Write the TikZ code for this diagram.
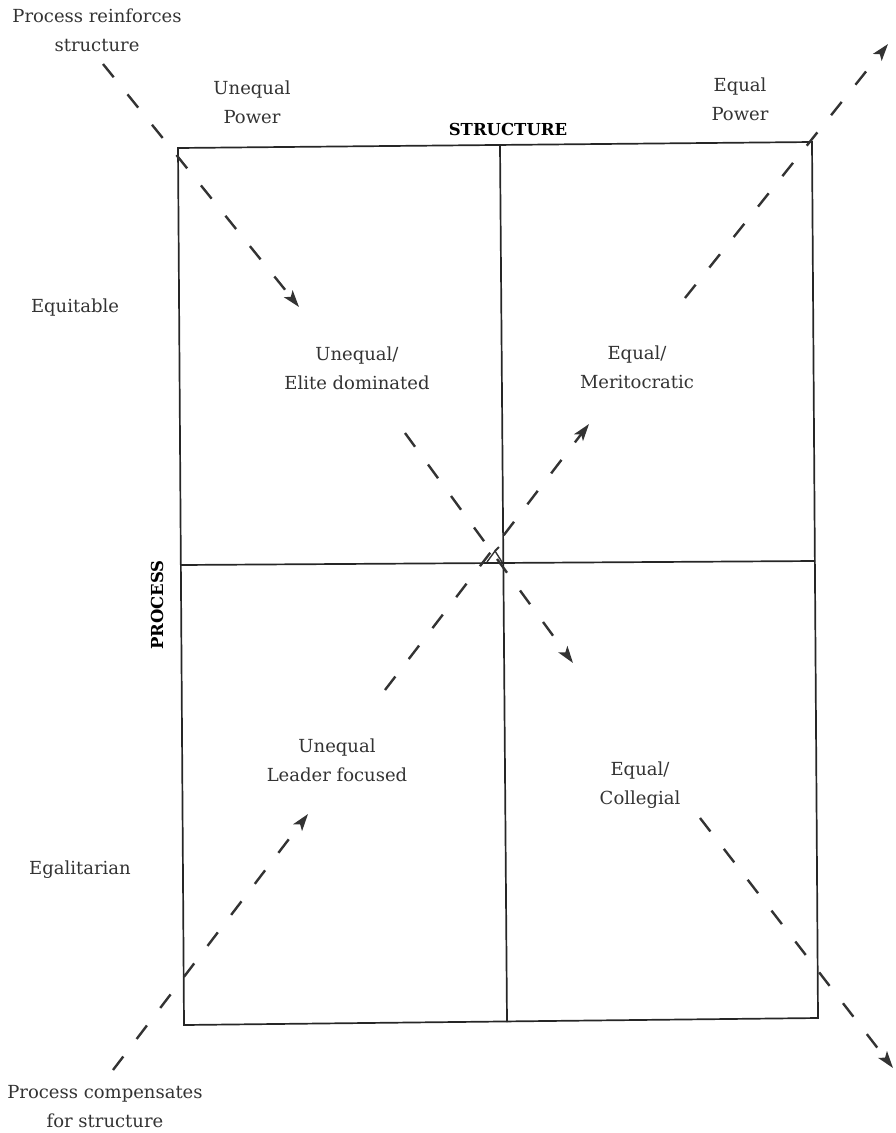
\documentclass[tikz,border=0pt]{standalone}
\usepackage{fontspec}
\setmainfont{DejaVu Serif}
\usetikzlibrary{arrows.meta}
\begin{document}
\begin{tikzpicture}[x=1pt,y=-1pt,
  lbl/.style={font=\fontsize{18}{29}\selectfont, align=center, inner sep=0pt, text=black!80},
  axis/.style={font=\fontsize{16.5}{20}\bfseries\selectfont, inner sep=0pt},
  frame/.style={line width=1.7pt, black!85},
  flow/.style={line width=2.4pt, black!80, dash pattern=on 17pt off 22pt, -{Stealth[length=17pt,width=11pt,inset=4pt]}}]
\useasboundingbox (0,0) rectangle (896,1133);
% frame corners
\coordinate (tl) at (178,148);
\coordinate (tr) at (812,142);
\coordinate (bl) at (184,1025);
\coordinate (br) at (818,1018);
\coordinate (tm) at (500,145);
\coordinate (bm) at (507,1022);
\coordinate (lm) at (180,565);
\coordinate (rm) at (815,561);
\draw[frame] (tl) -- (tr) -- (br) -- (bl) -- cycle;
\draw[frame] (tm) -- (bm);
\draw[frame] (lm) -- (rm);
% texts
\node[lbl] (reinf) at (97,30) {Process reinforces\\structure};
\node[lbl] (uneqp) at (252,102) {Unequal\\Power};
\node[lbl] (eqp) at (740,99) {Equal\\Power};
\node[axis] (struct) at (508,129) {STRUCTURE};
\node[lbl] (equit) at (75,308) {Equitable};
\node[axis, rotate=90] (proc) at (157,605) {PROCESS};
\node[lbl] (egal) at (80,870) {Egalitarian};
\node[lbl] (elite) at (357,368) {Unequal/\\Elite dominated};
\node[lbl] (merit) at (637,367) {Equal/\\Meritocratic};
\node[lbl] (leader) at (337,760) {Unequal\\Leader focused};
\node[lbl] (coll) at (640,785) {Equal/\\Collegial};
\node[lbl] (comp) at (105,1107) {Process compensates\\for structure};
% diagonal 1: reinforces
\coordinate (a1) at (103,64);
\coordinate (a2) at (299,307);
\coordinate (a3) at (405,433);
\coordinate (a4) at (573,663);
\coordinate (a5) at (700,818);
\coordinate (a6) at (893,1068);
\draw[flow] (a1) -- (a2);
\draw[flow] (a3) -- (a4);
\draw[flow] (a5) -- (a6);
% diagonal 2: compensates
\coordinate (b1) at (113,1070);
\coordinate (b2) at (308,814);
\coordinate (b3) at (385,690);
\coordinate (b4) at (589,424);
\coordinate (b5) at (685,298);
\coordinate (b6) at (888,44);
\draw[flow] (b1) -- (b2);
\draw[flow] (b3) -- (b4);
\draw[flow] (b5) -- (b6);
% small open tip at centre
\coordinate (t1) at (487,562);
\coordinate (t2) at (502,562);
\coordinate (t3) at (495,551);
\coordinate (t4) at (499,547);
\draw[line width=1.4pt, black!80] (t1) -- (t3) -- (t2);
\draw[line width=1.8pt, black!80] (t3) -- (t4);
\end{tikzpicture}
\end{document}
